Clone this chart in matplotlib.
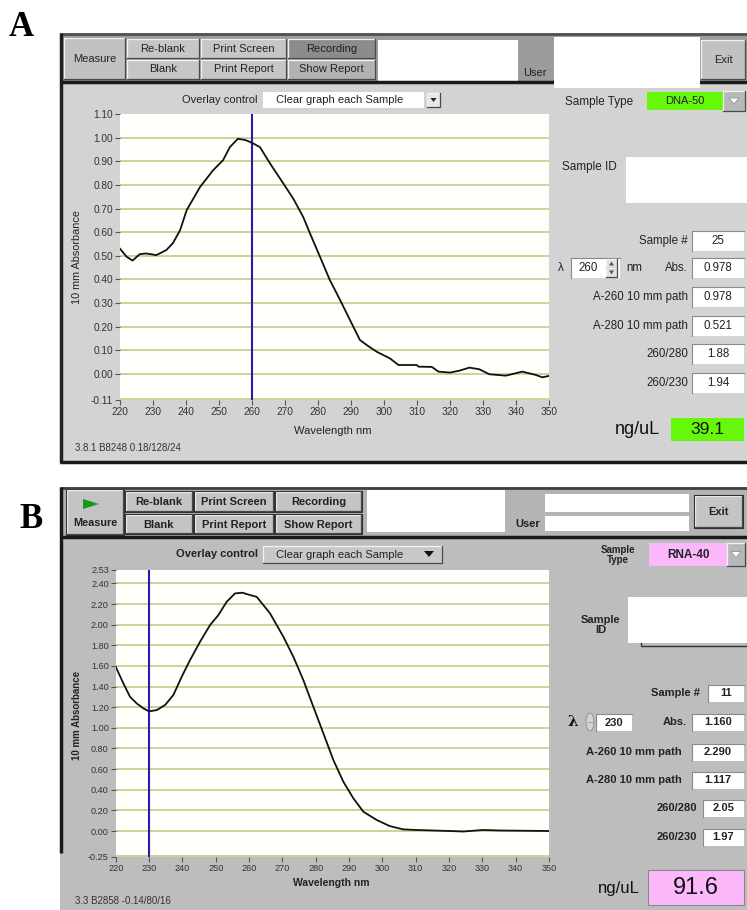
import matplotlib
matplotlib.use('Agg')
import matplotlib.pyplot as plt
from matplotlib.patches import Rectangle, Polygon, Ellipse

W, H = 747, 910

# spectrum A: DNA-50 sample, absorbance at 10 mm path
wl_a = [220, 222, 223.8, 226, 227.9, 231, 234, 236, 238.2, 240.2, 244.2, 248.2,
        251.2, 253.3, 255.7, 258, 260, 262.4, 265.5, 269.5, 272.5, 275.5, 277.6,
        280.6, 283.6, 286.7, 289.7, 292.7, 294.8, 297.8, 301.8, 304.4, 309.9,
        310.5, 314.5, 316.5, 320, 322.8, 325.9, 328.9, 331.9, 336.9, 341.9, 346,
        348, 350]
abs_a = [0.53, 0.496, 0.48, 0.507, 0.51, 0.503, 0.524, 0.553, 0.608, 0.693, 0.79,
         0.862, 0.904, 0.96, 0.995, 0.99, 0.978, 0.96, 0.89, 0.806, 0.742, 0.665,
         0.594, 0.496, 0.397, 0.313, 0.228, 0.144, 0.122, 0.094, 0.066, 0.038,
         0.038, 0.031, 0.03, 0.01, 0.006, 0.014, 0.027, 0.02, -0.001, -0.007, 0.01,
         -0.004, -0.014, -0.008]

# spectrum B: RNA-40 sample
wl_b = [220, 222.3, 224.3, 226.3, 228.3, 230, 232.3, 234.8, 237.3, 239.8, 242.3,
        245.3, 248.3, 250.8, 253.3, 255.8, 258, 260, 262.3, 266.3, 270.3, 273.3,
        276.3, 279.3, 282.3, 285.3, 288.3, 291.3, 294.3, 298.3, 302.2, 306.2,
        310.2, 320.2, 324.2, 330.2, 335.2, 350]
abs_b = [1.592, 1.431, 1.301, 1.237, 1.189, 1.16, 1.172, 1.221, 1.318, 1.495,
         1.657, 1.834, 1.996, 2.093, 2.222, 2.303, 2.31, 2.29, 2.27, 2.11, 1.883,
         1.689, 1.463, 1.204, 0.947, 0.688, 0.478, 0.317, 0.187, 0.107, 0.048,
         0.016, 0.01, 0.0, -0.005, 0.01, 0.005, 0.0]

x_ticks = list(range(220, 351, 10))
y_ticks_a = [1.10, 1.00, 0.90, 0.80, 0.70, 0.60, 0.50, 0.40, 0.30, 0.20, 0.10, 0.00, -0.11]
y_ticks_b = [2.53, 2.40, 2.20, 2.00, 1.80, 1.60, 1.40, 1.20, 1.00, 0.80, 0.60, 0.40,
             0.20, 0.00, -0.25]

# readout panels
labels_a = ['Sample #', 'Abs.', 'A-260 10 mm path', 'A-280 10 mm path', '260/280', '260/230']
values_a = ['25', '0.978', '0.978', '0.521', '1.88', '1.94']
labels_b = ['Sample #', 'Abs.', 'A-260 10 mm path', 'A-280 10 mm path', '260/280', '260/230']
values_b = ['11', '1.160', '2.290', '1.117', '2.05', '1.97']
cursor_a, cursor_b = 260, 230
conc_a, conc_b = '39.1', '91.6'
type_a, type_b = 'DNA-50', 'RNA-40'
version_a = '3.8.1 B8248 0.18/128/24'
version_b = '3.3 B2858 -0.14/80/16'

SANS = 'Liberation Sans'

fig = plt.figure(figsize=(W / 100, H / 100), dpi=100)
fig.patch.set_facecolor('white')
bg = fig.add_axes([0, 0, 1, 1])
bg.set_xlim(0, W)
bg.set_ylim(H, 0)
bg.axis('off')


def rect(x0, y0, x1, y1, fc, ec='none', lw=0, z=1):
    bg.add_patch(Rectangle((x0, y0), x1 - x0, y1 - y0, fc=fc, ec=ec, lw=lw, zorder=z))


def hline(x0, x1, y, c, lw, z=3):
    bg.plot([x0, x1], [y, y], color=c, lw=lw, zorder=z, solid_capstyle='butt')


def vline(x, y0, y1, c, lw, z=3):
    bg.plot([x, x], [y0, y1], color=c, lw=lw, zorder=z, solid_capstyle='butt')


def tri(pts, fc, z=4.5):
    bg.add_patch(Polygon(pts, closed=True, fc=fc, ec='none', zorder=z))


def bevel(x0, y0, x1, y1, fc, raised=True, z=2, outline=None):
    rect(x0, y0, x1, y1, fc, z=z)
    hi, lo = ('#f2f2f2', '#4a4a4a') if raised else ('#5a5a5a', '#f2f2f2')
    bg.plot([x0, x0, x1], [y1, y0, y0], color=hi, lw=0.9, zorder=z + 0.1)
    bg.plot([x0, x1, x1], [y1, y1, y0], color=lo, lw=0.9, zorder=z + 0.1)
    if outline:
        rect(x0 - 1, y0 - 1, x1 + 1, y1 + 1, 'none', ec=outline, lw=0.8, z=z + 0.2)


def txt(x, y, s, size=8.5, ha='center', weight='normal', color='#222222',
        family=SANS, z=5, **kw):
    bg.text(x, y, s, fontsize=size, ha=ha, va='center', weight=weight,
            color=color, family=family, zorder=z, **kw)


def field(x0, y0, x1, y1, s, size=8.5, weight='normal', fc='white'):
    rect(x0, y0, x1, y1, fc, z=2)
    bg.plot([x0, x0, x1], [y1, y0, y0], color='#8a8a8a', lw=0.8, zorder=2.1)
    txt((x0 + x1) / 2, (y0 + y1) / 2, s, size=size, weight=weight)


def arrow_box(x0, y0, x1, y1, tri_color='white'):
    bevel(x0, y0, x1, y1, '#b8b8b8', z=3)
    cx, cy = (x0 + x1) / 2, (y0 + y1) / 2
    bg.add_patch(Polygon([(cx - 5, cy - 3), (cx + 5, cy - 3), (cx, cy + 3)],
                         closed=True, fc=tri_color, ec='#888888', lw=0.5, zorder=4))


def spectrum(box, wl, ab, ticks, ylim, cursor, bold):
    x0, y0, x1, y1 = box
    ax = fig.add_axes([x0 / W, 1 - y1 / H, (x1 - x0) / W, (y1 - y0) / H])
    ax.set_facecolor('#fffffb')
    for t in ticks[1:-1]:
        ax.axhline(t, color='#cdcd92', lw=1.3, zorder=1)
    ax.axhline(ticks[-1] + 0.004 * (ylim[1] - ylim[0]), color='#cdcd92', lw=1.3, zorder=1)
    ax.axvline(cursor, color='#2a1ca8', lw=1.5, zorder=2)
    ax.plot(wl, ab, color='#111111', lw=1.3, zorder=3)
    ax.set_xlim(220, 350)
    ax.set_ylim(*ylim)
    ax.set_xticks(x_ticks)
    ax.set_yticks(ticks)
    ax.set_yticklabels(['%.2f' % t for t in ticks])
    for s in ax.spines.values():
        s.set_visible(False)
    ax.tick_params(direction='out', length=3.5, width=0.8, color='#555555',
                   labelcolor='#333333', labelsize=7.3 if not bold else 6.6, pad=1.5)
    for lab in ax.get_xticklabels() + ax.get_yticklabels():
        lab.set_family(SANS)
    return ax


# ---------------- panel A ----------------
txt(21, 27, 'A', size=25, weight='bold', family='Liberation Serif', color='black')

rect(60, 33, W, 463, '#d3d3d3', z=0.5)
rect(62, 35, W, 81, '#9c9c9c', z=0.6)
hline(60, W, 33.5, '#505050', 2)
vline(60.5, 33, 463, '#202020', 2.5)
hline(60, W, 81.5, '#1a1a1a', 2.5)
hline(60, W, 462, '#1a1a1a', 2.5)

bevel(64, 38, 125, 79, '#c2c2c2')
txt(94.5, 58.5, 'Measure', size=8)
for (xa, xb, top, bot) in [(127, 199, 'Re-blank', 'Blank'), (201, 286, 'Print Screen', 'Print Report')]:
    bevel(xa, 39, xb, 58, '#c6c6c6')
    bevel(xa, 60, xb, 79, '#c6c6c6')
    txt((xa + xb) / 2, 48.5, top, size=8)
    txt((xa + xb) / 2, 69.5, bot, size=8)
bevel(288, 39, 375, 58, '#8c8c8c')
bevel(288, 60, 375, 79, '#b2b2b2')
txt(331.5, 48.5, 'Recording', size=8)
txt(331.5, 69.5, 'Show Report', size=8)
rect(378, 40, 518, 81, 'white', z=2)
txt(523, 73, 'User', size=8, ha='left')
rect(554, 37, 700, 88, 'white', z=4)
bevel(701, 40, 745, 79, '#c2c2c2')
txt(723, 60, 'Exit', size=8)

txt(257, 100, 'Overlay control', size=8, ha='right')
rect(263, 92, 424, 108, 'white', z=2)
txt(276, 100, 'Clear graph each Sample', size=8, ha='left')
bevel(427, 93, 440, 107, '#e8e8e8')
tri([(430.5, 98), (436.5, 98), (433.5, 102)], '#222222')

spectrum((120, 114, 549, 400), wl_a, abs_a, y_ticks_a, (-0.11, 1.10), cursor_a, False)
txt(77, 257, '10 mm Absorbance', size=7.8, rotation=90)
txt(333, 431, 'Wavelength nm', size=8)
txt(75, 448, version_a, size=7, ha='left', color='#333333')

txt(565, 102, 'Sample Type', size=8.5, ha='left')
rect(647, 92, 723, 110, '#66f70a', z=2)
txt(685, 101, type_a, size=8)
arrow_box(723, 91, 745, 111)
txt(562, 167, 'Sample ID', size=8.5, ha='left')
rect(626, 157, W, 203, 'white', z=2)

rows_a = [241, 268, 297, 326, 354, 383]
for lab, val, yc in zip(labels_a, values_a, rows_a):
    txt(688, yc, lab, size=8.3, ha='right')
    field(692, yc - 10, 744, yc + 10, val, size=8.3)
txt(561, 268, 'λ', size=8.5)
field(571, 258, 620, 278, '', size=8.3)
txt(588, 268, str(cursor_a), size=8.3)
# wavelength spinner with up/down arrows
bevel(606, 259, 617, 268, '#e4e4e4', z=3)
bevel(606, 268, 617, 277, '#e4e4e4', z=3)
tri([(609, 265.5), (614, 265.5), (611.5, 261.5)], '#555555')
tri([(609, 270.5), (614, 270.5), (611.5, 274.5)], '#555555')
txt(626, 268, 'nm', size=8.3, ha='left')
txt(660, 430, 'ng/uL', size=13, ha='right', color='#111111')
rect(671, 418, 744, 441, '#66f70a', z=2)
txt(707.5, 429.5, conc_a, size=12.5, color='#111111')

# ---------------- panel B ----------------
txt(31, 520, 'B', size=25, weight='bold', family='Liberation Serif', color='black')

rect(60, 487, W, H, '#bdbdbd', z=0.5)
rect(62, 489, W, 536, '#b4b4b4', z=0.6)
hline(60, W, 487.5, '#404040', 2)
vline(60.5, 487, 853, '#1a1a1a', 2.5)
hline(60, W, 537, '#1a1a1a', 2.5)

bevel(67, 490, 123, 534, '#c4c4c4', outline='#333333')
tri([(83, 499), (83, 509), (99, 504)], '#139a1c')
txt(95, 523, 'Measure', size=7.8, weight='bold')
for (xa, xb, top, bot) in [(126, 192, 'Re-blank', 'Blank'),
                           (195, 273, 'Print Screen', 'Print Report'),
                           (276, 361, 'Recording', 'Show Report')]:
    bevel(xa, 492, xb, 511, '#c4c4c4', outline='#333333')
    bevel(xa, 515, xb, 533, '#c4c4c4', outline='#333333')
    txt((xa + xb) / 2, 502, top, size=8, weight='bold')
    txt((xa + xb) / 2, 524.5, bot, size=8, weight='bold')
rect(367, 490, 505, 532, 'white', z=2)
txt(515, 524, 'User', size=8, weight='bold', ha='left')
rect(545, 494, 689, 512, 'white', z=2)
rect(545, 516, 689, 531, 'white', z=2)
bevel(695, 496, 742, 527, '#c4c4c4', outline='#333333')
txt(718.5, 512, 'Exit', size=8, weight='bold')

txt(258, 554, 'Overlay control', size=8, weight='bold', ha='right')
bevel(263, 546, 442, 563, '#c8c8c8')
txt(276, 554.5, 'Clear graph each Sample', size=8, ha='left')
tri([(424, 551), (434, 551), (429, 557)], '#111111')

spectrum((115.7, 570, 549, 856.8), wl_b, abs_b, y_ticks_b, (-0.25, 2.53), cursor_b, True)
txt(77, 715, '10 mm Absorbance', size=7, weight='bold', rotation=90)
txt(331, 883, 'Wavelength nm', size=7.5, weight='bold')
txt(75, 901, version_b, size=7, ha='left', color='#333333')

txt(618, 555, 'Sample\nType', size=7, weight='bold', linespacing=0.95)
rect(649, 543, 727, 566, '#fbb9fb', z=2)
txt(688, 555, type_b, size=8.5, weight='bold')
arrow_box(727, 543, 745, 566)
txt(601, 625, 'Sample\nID', size=8, weight='bold', linespacing=1.0)
rect(641, 603, W, 646, '#bdbdbd', ec='#333333', lw=1.0, z=1.5)
rect(628, 597, W, 643, 'white', z=2)

rows_b = [693, 722, 752, 780, 808, 837]
lab_right = [700, 687, 682, 682, 697, 697]
box_left = [708, 692, 692, 692, 703, 703]
for lab, val, yc, xr, xl in zip(labels_b, values_b, rows_b, lab_right, box_left):
    txt(xr, yc, lab, size=8, weight='bold', ha='right')
    field(xl, yc - 8.5, 744, yc + 8.5, val, size=8, weight='bold')
txt(573, 722, 'λ', size=11, weight='bold', family='DejaVu Serif', color='#111111')
# oval spinner beside the cursor field
bg.add_patch(Ellipse((590, 722), 8, 18, fc='#d4d4d4', ec='#9a9a9a', lw=0.8, zorder=3))
hline(586.5, 593.5, 722, '#9a9a9a', 0.6, z=3.2)
field(596, 714, 632, 731, str(cursor_b), size=8, weight='bold')
txt(640, 888, 'ng/uL', size=12, ha='right', color='#111111')
rect(648, 870, 744, 905, '#fbb9fb', ec='#888888', lw=0.8, z=2)
txt(696, 888, conc_b, size=17, color='#111111')

fig.savefig('out.png', dpi=100)
